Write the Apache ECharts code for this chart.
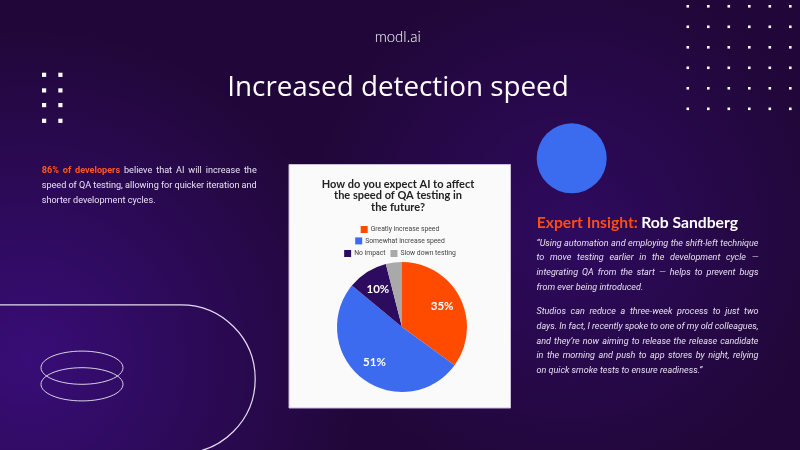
<!DOCTYPE html>
<html><head><meta charset="utf-8">
<script src="https://cdn.jsdelivr.net/npm/echarts@6/dist/echarts.min.js"></script>
<style>html,body{margin:0;padding:0;background:#210739}#c{width:800px;height:450px}</style>
</head><body><div id="c"></div>
<script>
// ---------- data ----------
const categories = ['Greatly increase speed', 'Somewhat increase speed', 'No impact', 'Slow down testing'];
const shares = [35, 51, 10, 4];
const sliceColors = ['#fe4b00', '#3c6bef', '#2d0b5f', '#a9a9a9'];
const legendRows = [['Greatly increase speed'], ['Somewhat increase speed'], ['No impact', 'Slow down testing']];
const logoText = 'modl.ai';
const pageTitle = 'Increased detection speed';
const chartTitle = 'How do you expect AI to affect\nthe speed of QA testing in\nthe future?';
const introHighlight = '86% of developers';
const introLines = [
  '86% of developers believe that AI will increase the',
  'speed of QA testing, allowing for quicker iteration and',
  'shorter development cycles.'
];
const insightLabel = 'Expert Insight:';
const insightName = 'Rob Sandberg';
const quoteParas = [
  ['\u201CUsing automation and employing the shift-left technique',
   'to move testing earlier in the development cycle \u2014',
   'integrating QA from the start \u2014 helps to prevent bugs',
   'from ever being introduced.'],
  ['Studios can reduce a three-week process to just two',
   'days. In fact, I recently spoke to one of my old colleagues,',
   'and they\u2019re now aiming to release the release candidate',
   'in the morning and push to app stores by night, relying',
   'on quick smoke tests to ensure readiness.\u201D']
];

// ---------- helpers ----------
const cv = document.createElement('canvas').getContext('2d');
function measure(t, font) { cv.font = font; return cv.measureText(t).width; }

function justifyLine(words, x, y, width, justify, z) {
  const fontOf = s => `${s.fontStyle || 'normal'} ${s.fontWeight || 400} ${s.fontSize}px ${s.fontFamily}`;
  const ws = words.map(w => measure(w.t, fontOf(w.style)));
  const spaceW = measure(' ', fontOf(words[0].style));
  const sum = ws.reduce((a, b) => a + b, 0);
  const gap = (justify && words.length > 1) ? (width - sum) / (words.length - 1) : spaceW;
  const out = [];
  let cx = x;
  words.forEach((w, i) => {
    out.push({ type: 'text', x: cx, y: y, z: z || 5, silent: true,
      style: Object.assign({ text: w.t, verticalAlign: 'middle', align: 'left' }, w.style) });
    cx += ws[i] + gap;
  });
  return out;
}

const graphics = [];
// background
graphics.push({ type: 'rect', z: 0, silent: true, shape: { x: 0, y: 0, width: 800, height: 450 }, style: { fill: '#210739' } });
graphics.push({ type: 'rect', z: 0, silent: true, shape: { x: 0, y: 0, width: 800, height: 450 },
  style: { fill: { type: 'radial', x: 30, y: 360, r: 330, global: true,
    colorStops: [{ offset: 0, color: 'rgba(60,14,130,0.85)' }, { offset: 1, color: 'rgba(60,14,130,0)' }] } } });
graphics.push({ type: 'rect', z: 0, silent: true, shape: { x: 0, y: 0, width: 800, height: 450 },
  style: { fill: { type: 'radial', x: 570, y: 230, r: 260, global: true,
    colorStops: [{ offset: 0, color: 'rgba(55,12,120,0.6)' }, { offset: 1, color: 'rgba(55,12,120,0)' }] } } });

// dot grids
for (let i = 0; i < 6; i++) for (let j = 0; j < 6; j++)
  graphics.push({ type: 'rect', z: 1, silent: true, shape: { x: 686.5 + 20.5 * i, y: 5 + 20.5 * j, width: 2.6, height: 2.6 }, style: { fill: '#ffffff' } });
[44, 60.3].forEach(x => [74.7, 90.3, 105, 120.7].forEach(y =>
  graphics.push({ type: 'rect', z: 1, silent: true, shape: { x: x - 2, y: y - 2, width: 4.2, height: 4.2 }, style: { fill: '#ffffff' } })));

// outline shapes
graphics.push({ type: 'line', z: 1, silent: true, shape: { x1: 0, y1: 304.8, x2: 181, y2: 304.8 }, style: { stroke: '#e4dcef', lineWidth: 1.2 } });
graphics.push({ type: 'arc', z: 1, silent: true, shape: { cx: 181, cy: 379, r: 74.2, startAngle: -Math.PI / 2, endAngle: Math.PI / 2, clockwise: true }, style: { stroke: '#e4dcef', lineWidth: 1.2, fill: null } });
graphics.push({ type: 'ellipse', z: 1, silent: true, shape: { cx: 82, cy: 367.7, rx: 41, ry: 16.6 }, style: { stroke: '#d9d1e6', lineWidth: 1, fill: null } });
graphics.push({ type: 'ellipse', z: 1, silent: true, shape: { cx: 82, cy: 384.3, rx: 41, ry: 16.6 }, style: { stroke: '#d9d1e6', lineWidth: 1, fill: null } });
graphics.push({ type: 'circle', z: 1, silent: true, shape: { cx: 571.7, cy: 158.3, r: 35 }, style: { fill: '#3b6cf0' } });

// card
graphics.push({ type: 'rect', z: 1, silent: true, shape: { x: 289, y: 164.5, width: 221.5, height: 243.5 }, style: { fill: '#fafafa', stroke: '#c9bcdf', lineWidth: 1 } });

// texts
graphics.push({ type: 'text', z: 5, silent: true, x: 397.7, y: 37.5,
  style: { text: logoText, align: 'center', verticalAlign: 'middle', fontFamily: 'Lato', fontWeight: 300, fontSize: 15, fill: '#ffffff' } });
graphics.push({ type: 'text', z: 5, silent: true, x: 398, y: 88,
  style: { text: pageTitle, align: 'center', verticalAlign: 'middle', fontFamily: 'Open Sans', fontWeight: 400, fontSize: 27.8, fill: '#ffffff' } });
graphics.push({ type: 'text', z: 5, silent: true, x: 398, y: 178.5,
  style: { text: chartTitle, align: 'center', verticalAlign: 'top', fontFamily: 'Lato', fontWeight: 'bold', fontSize: 11, lineHeight: 11.4, fill: '#222222' } });

// intro paragraph
const introStyle = { fontSize: 9.1, fontFamily: 'Roboto', fontWeight: 400, fill: '#e9e2f2' };
const hiStyle = { fontSize: 9.1, fontFamily: 'Roboto', fontWeight: 700, fill: '#ff5a1e' };
const hiWords = introHighlight.split(' ');
introLines.forEach((ln, li) => {
  const words = ln.split(' ').map((t, wi) => ({ t, style: (li === 0 && wi < hiWords.length) ? hiStyle : introStyle }));
  justifyLine(words, 41.7, 170.7 + 15 * li, 215, li < introLines.length - 1).forEach(g => graphics.push(g));
});

// expert insight
graphics.push({ type: 'text', z: 5, silent: true, x: 536.7, y: 223.3,
  style: { text: '{o|' + insightLabel + '} {w|' + insightName + '}', verticalAlign: 'middle', align: 'left',
    rich: { o: { fontFamily: 'Lato', fontWeight: 'bold', fontSize: 15.7, fill: '#ff4d12', color: '#ff4d12' },
            w: { fontFamily: 'Lato', fontWeight: 'bold', fontSize: 15.7, fill: '#ffffff', color: '#ffffff' } } } });

const quoteStyle = { fontSize: 9, fontFamily: 'Roboto', fontStyle: 'italic', fontWeight: 400, fill: '#e6dff0' };
let qy = 243.3;
quoteParas.forEach((para) => {
  para.forEach((ln, li) => {
    const words = ln.split(' ').map(t => ({ t, style: quoteStyle }));
    justifyLine(words, 536.5, qy, 222, li < para.length - 1).forEach(g => graphics.push(g));
    qy += 14.9;
  });
  qy += 8.6;
});

// ---------- chart ----------
const pieData = categories.map((c, i) => ({ name: c, value: shares[i], itemStyle: { color: sliceColors[i] } }));
const labelData = categories.map((c, i) => ({ name: c, value: shares[i], label: { show: shares[i] >= 5 } }));

const legendTops = [226, 237.4, 250];
const chart = echarts.init(document.getElementById('c'), null, { renderer: 'canvas' });
chart.setOption({
  animation: false,
  graphic: { elements: graphics },
  legend: legendRows.map((row, i) => ({
    data: row, top: legendTops[i], left: 'center', itemWidth: 7, itemHeight: 7, itemGap: 5, icon: 'rect',
    textStyle: { fontSize: 6.8, color: '#444', fontFamily: 'Roboto', padding: [0, 0, 0, -2] }, padding: 0, z: 10
  })),
  series: [
    { type: 'pie', name: 'share', center: [402, 327], radius: [0, 65], startAngle: 90, clockwise: true,
      data: pieData, label: { show: false }, labelLine: { show: false }, z: 5, emphasis: { disabled: true } },
    { type: 'pie', name: 'labels', center: [402, 327], radius: [0, 84], startAngle: 90, clockwise: true, silent: true,
      legendHoverLink: false,
      data: labelData, itemStyle: { color: 'rgba(0,0,0,0)' },
      label: { position: 'inside', formatter: '{d}%', color: '#ffffff', fontFamily: 'Lato', fontWeight: 'bold', fontSize: 11.5 },
      labelLine: { show: false }, z: 6, emphasis: { disabled: true } }
  ]
});
</script></body></html>
